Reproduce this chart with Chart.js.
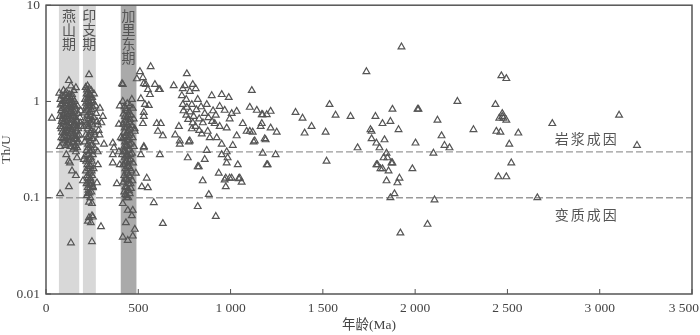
<!DOCTYPE html>
<html>
<head>
<meta charset="utf-8">
<script src="https://cdn.jsdelivr.net/npm/chart.js@4"></script>
<style>
  body { margin: 0; background: #fff; }
  #wrap { width: 700px; height: 335px; }
</style>
</head>
<body>
<div id="wrap"><canvas id="chart" width="700" height="335"></canvas></div>
<script>
// Tick labels
const xTicks = [0, 500, 1000, 1500, 2000, 2500, 3000, 3500];
const xTickLabels = ['0', '500', '1 000', '1 500', '2 000', '2 500', '3 000', '3 500'];
const yTicks = [0.01, 0.1, 1, 10];

// Tectonic periods (age ranges, Ma)
const periodNames = ['燕山期', '印支期', '加里东期'];
const periodFrom = [70, 200, 405];
const periodTo = [180, 270, 490];

// Th/U reference levels and zone labels
const refLevels = [0.3, 0.1];
const zoneNames = ['岩浆成因', '变质成因'];
const zoneAge = [2930, 2930];
const zoneRatio = [0.41, 0.067];

// [age Ma, Th/U]
const yanshan = [
  [32,0.67],[72,1.22],[78,1.05],[80,0.92],[82,0.8],[76,0.7],[85,0.62],[79,0.55],[88,0.48],[83,0.42],[90,0.37],
  [95,1.3],[98,1.12],[92,1.0],[100,0.87],[96,0.76],[102,0.66],[94,0.58],[105,0.5],[99,0.44],[103,0.39],
  [110,1.25],[113,1.08],[108,0.95],[115,0.83],[111,0.73],[117,0.64],[109,0.56],[120,0.49],[114,0.43],[118,0.36],
  [125,1.18],[128,1.02],[123,0.9],[130,0.79],[126,0.69],[133,0.6],[124,0.53],[135,0.46],[129,0.4],[132,0.34],
  [140,1.12],[143,0.97],[138,0.86],[146,0.75],[141,0.66],[148,0.58],[139,0.51],[150,0.44],[144,0.38],[147,0.32],
  [155,1.0],[158,0.88],[153,0.78],[160,0.68],[156,0.6],[163,0.52],[154,0.46],[165,0.4],[159,0.35],[162,0.3],
  [170,0.9],[173,0.75],[168,0.62],[175,0.52],[171,0.44],[178,0.38],[169,0.33],
  [86,1.15],[91,0.95],[87,0.84],[93,0.72],[89,0.66],[97,0.61],[84,0.52],[101,0.47],[92,0.41],[106,0.35],
  [104,1.2],[107,1.02],[112,0.9],[106,0.78],[116,0.7],[112,0.6],[121,0.55],[116,0.47],[122,0.42],[127,0.37],
  [119,1.12],[134,1.08],[131,0.93],[137,0.8],[128,0.74],[142,0.71],[136,0.64],[145,0.54],[137,0.49],[152,0.41],
  [148,1.05],[151,0.92],[157,0.83],[149,0.7],[164,0.64],[158,0.56],[166,0.49],[161,0.43],[170,0.37],[156,0.33],
  [124,1.65],[162,1.39],[141,1.18],[135,1.45],[150,1.3],
  [76,0.34],[124,0.24],[141,0.19],[162,0.17],[76,0.11],[124,0.13],[135,0.034],[130,0.23],[168,0.26],[110,0.28],
  [180,0.45],[185,0.6],[188,0.8],[184,0.68],[190,0.55]
];
const indosinian = [
  [215,1.4],[225,1.45],[235,1.35],[245,1.3],[220,1.2],[230,1.25],[240,1.15],[250,1.1],[212,1.05],[228,1.0],
  [238,0.95],[255,0.98],[218,0.88],[232,0.85],[246,0.82],[208,0.76],[224,0.72],[242,0.7],[258,0.68],[214,0.63],
  [236,0.6],[250,0.58],[205,0.55],[226,0.52],[244,0.5],[260,0.48],[216,0.45],[234,0.43],[252,0.41],[210,0.38],
  [228,0.36],[246,0.35],[262,0.33],[220,0.31],[238,0.3],[254,0.28],[212,0.27],[232,0.25],[248,0.24],[224,0.22],
  [242,0.21],[258,0.2],[216,0.19],[236,0.18],[250,0.17],[228,0.16],[244,0.15],[220,0.14],[238,0.135],[254,0.13],
  [230,0.12],[246,0.115],[222,0.105],[240,0.1],[233,0.09],
  [222,1.32],[234,1.18],[226,1.08],[244,1.02],[216,0.96],[231,0.91],[252,0.88],[221,0.8],[238,0.77],[229,0.66],
  [248,0.64],[219,0.57],[233,0.55],[241,0.47],[222,0.42],[240,0.39],[230,0.33],[250,0.31],[226,0.28],[243,0.26],
  [218,0.24],[236,0.22],[230,0.2],[247,0.19],[224,0.17],[240,0.16],[232,0.145],[248,0.14],[226,0.128],[236,0.112],
  [233,1.9],[260,1.2],[268,0.9],[272,0.75],[276,0.62],[265,0.45],[270,0.38],[280,0.3],[292,0.85],[308,0.7],
  [281,0.57],[314,0.36],[281,0.22],[276,0.143],[254,0.127],
  [227,0.11],[249,0.087],[249,0.065],[233,0.062],[254,0.063],[227,0.057],[243,0.055],[249,0.035],[298,0.05],
  [200,0.15],[205,0.25],[300,0.6],[290,0.45],[285,0.5]
];
const caledonian = [
  [416,1.5],[465,1.05],[416,1.0],[440,0.95],[455,0.9],[425,0.88],[470,0.85],[435,0.8],[450,0.78],[420,0.74],
  [460,0.72],[440,0.68],[475,0.66],[428,0.64],[452,0.6],[418,0.58],[466,0.56],[436,0.54],[480,0.52],[446,0.5],
  [424,0.48],[458,0.46],[434,0.44],[470,0.42],[414,0.41],[448,0.4],[428,0.38],[462,0.37],[440,0.35],[476,0.34],
  [420,0.33],[452,0.32],[432,0.3],[466,0.29],[412,0.28],[444,0.27],[426,0.26],[458,0.25],[438,0.24],[472,0.23],
  [418,0.22],[450,0.21],[430,0.2],[462,0.19],[440,0.18],[424,0.17],[456,0.165],[436,0.155],[468,0.15],[420,0.145],
  [448,0.14],[430,0.13],[460,0.125],[442,0.12],[424,0.115],[454,0.11],[436,0.105],[446,0.1],
  [432,0.84],[446,0.72],[428,0.7],[456,0.65],[434,0.6],[444,0.57],[426,0.53],[456,0.52],[438,0.47],[450,0.44],
  [426,0.42],[440,0.39],[454,0.36],[432,0.34],[446,0.31],[422,0.3],[458,0.28],[436,0.27],[450,0.24],[428,0.23],
  [442,0.21],[456,0.2],[436,0.19],[450,0.17],[430,0.16],[444,0.15],[458,0.14],[436,0.128],[450,0.118],[430,0.108],
  [438,0.1],[416,0.087],[443,0.074],[470,0.074],[433,0.055],[465,0.065],[416,0.039],[443,0.036],[470,0.04],[481,0.047],
  [362,0.23],[384,0.14],[400,0.22],[487,0.18],[362,0.28],[395,0.58],[481,0.49],[362,0.37],[368,0.33],[412,1.53],
  [400,0.9],[405,0.42],[395,0.3]
];
const older = [
  [509,2.04],[567,2.3],[492,1.72],[525,1.77],[530,1.53],[541,1.5],[590,1.5],[611,1.33],[552,1.33],[563,1.18],
  [514,1.07],[536,0.93],[557,0.91],[530,0.77],[525,0.59],[600,0.59],[622,0.59],[606,0.49],[633,0.44],[530,0.33],
  [514,0.28],[617,0.28],[546,0.16],[519,0.13],[552,0.127],[584,0.089],[633,0.054],[617,1.33],[530,0.7],[530,0.34],
  [692,1.46],[763,1.94],[752,1.46],[795,1.5],[741,1.36],[811,1.36],[736,1.15],[779,1.27],[822,1.05],[898,1.15],
  [952,1.18],[990,1.1],[871,0.93],[741,0.93],[763,0.87],[790,0.93],[941,0.89],[968,0.81],[1006,0.75],[1033,0.79],
  [725,0.36],[774,0.38],[768,0.26],[871,0.31],[860,0.25],[822,0.21],[849,0.15],[882,0.108],[936,0.18],[974,0.16],
  [995,0.16],[1050,0.16],[1039,0.22],[974,0.13],[979,0.23],[968,0.153],[822,0.081],[920,0.064],[828,0.21],[725,0.39],
  [779,0.39],[914,0.59],[941,0.55],[979,0.53],[995,0.66],[887,0.42],[925,0.42],[876,0.49],[844,0.46],[979,0.3],
  [952,0.28],[984,0.26],[952,0.36],
  [745,0.8],[760,0.72],[780,0.78],[800,0.7],[815,0.82],[770,0.65],[795,0.6],[830,0.66],[810,0.55],[850,0.6],
  [790,0.52],[830,0.5],[860,0.75],[880,0.68],[900,0.62],[905,0.8],[920,0.72],[840,0.88],[760,1.05],[720,0.55],[700,0.45],
  [1066,0.59],[1087,0.49],[1104,0.49],[1033,0.44],[1131,0.39],[1185,0.41],[1174,0.29],[1196,0.22],[1104,0.87],[1115,1.3],
  [1142,0.81],[1169,0.73],[1196,0.73],[1044,0.158],[1006,0.16],[1060,0.145],[1012,0.35],[1120,0.48],[1163,0.55],[1125,0.38],
  [1217,0.79],[1174,0.73],[1169,0.59],[1217,0.53],[1250,0.48],[1190,0.4],[1244,0.28],[1201,0.22],
  [1352,0.77],[1390,0.67],[1439,0.55],[1401,0.47],[1536,0.93],[1569,0.72],[1650,0.7],[1515,0.48],[1520,0.24],[1688,0.33],
  [1736,2.04],[1926,3.69],[1785,0.7],[1823,0.59],[1866,0.62],[1877,0.83],[1910,0.51],[1764,0.49],[1758,0.51],[1764,0.41],
  [1790,0.37],[1834,0.4],[1807,0.33],[1845,0.29],[1829,0.26],[1850,0.26],[1877,0.23],[1790,0.22],[1812,0.2],[1823,0.2],
  [1856,0.19],[1915,0.16],[1845,0.15],[1904,0.143],[1985,0.2],[2002,0.37],[2013,0.83],[1866,0.1],[1888,0.11],[2105,0.095],
  [2067,0.053],[1920,0.043],[1796,0.22],[1872,0.23],
  [2229,1.0],[2121,0.64],[2143,0.44],[2159,0.35],[2186,0.33],[2099,0.29],[2316,0.51],[2467,1.85],[2494,1.73],[2435,0.93],
  [2472,0.75],[2456,0.67],[2478,0.67],[2494,0.64],[2472,0.7],[2440,0.49],[2462,0.48],[2559,0.47],[2510,0.36],[2521,0.23],
  [2451,0.165],[2494,0.165],[2662,0.1],[2743,0.59],[3105,0.72],[3202,0.35],[2018,0.83]
];

const FONT = "'Liberation Serif', 'Noto Sans CJK SC', serif";
const CJK = "'Noto Sans CJK SC', serif";
const INK = '#444';
const periodShade = ['#d8d8d8', '#d8d8d8', '#aaaaaa'];

const toPts = (arr) => arr.map(p => ({ x: p[0], y: p[1] }));

const pointStyle = {
  type: 'scatter',
  pointStyle: 'triangle',
  pointRadius: 3.9,
  borderColor: '#555',
  borderWidth: 1.2,
  backgroundColor: 'rgba(0,0,0,0)',
};

const datasets = [
  { ...pointStyle, label: 'yanshan', data: toPts(yanshan) },
  { ...pointStyle, label: 'indosinian', data: toPts(indosinian) },
  { ...pointStyle, label: 'caledonian', data: toPts(caledonian) },
  { ...pointStyle, label: 'older', data: toPts(older) },
];
refLevels.forEach(v => {
  datasets.push({
    type: 'line',
    data: [{ x: xTicks[0], y: v }, { x: xTicks[xTicks.length - 1], y: v }],
    borderColor: '#9a9a9a',
    borderWidth: 1.3,
    borderDash: [7, 3],
    pointRadius: 0,
    fill: false,
  });
});

// shaded period bands, frame, inward ticks, x labels, zone labels
const bandPlugin = {
  id: 'bands',
  beforeDatasetsDraw(chart) {
    const { ctx, chartArea, scales } = chart;
    ctx.save();
    periodNames.forEach((name, i) => {
      const x0 = scales.x.getPixelForValue(periodFrom[i]);
      const x1 = scales.x.getPixelForValue(periodTo[i]);
      ctx.fillStyle = periodShade[i];
      ctx.fillRect(x0, chartArea.top, x1 - x0, chartArea.bottom - chartArea.top);
      ctx.fillStyle = '#555';
      ctx.font = '14px ' + CJK;
      ctx.textAlign = 'center';
      ctx.textBaseline = 'middle';
      const cx = (x0 + x1) / 2;
      [...name].forEach((ch, k) => {
        ctx.fillText(ch, cx, chartArea.top + 10 + k * 14);
      });
    });
    ctx.restore();
  },
  afterDraw(chart) {
    const { ctx, chartArea, scales, width } = chart;
    ctx.save();
    ctx.strokeStyle = '#555';
    ctx.lineWidth = 1.5;
    ctx.strokeRect(chartArea.left, chartArea.top, chartArea.right - chartArea.left, chartArea.bottom - chartArea.top);
    ctx.lineWidth = 1;
    xTicks.forEach(v => {
      const x = scales.x.getPixelForValue(v);
      ctx.beginPath();
      ctx.moveTo(x, chartArea.bottom);
      ctx.lineTo(x, chartArea.bottom - 5);
      ctx.stroke();
    });
    yTicks.forEach(v => {
      const y = scales.y.getPixelForValue(v);
      ctx.beginPath();
      ctx.moveTo(chartArea.left, y);
      ctx.lineTo(chartArea.left + 5, y);
      ctx.stroke();
    });
    // x tick labels (last one kept inside the canvas)
    ctx.fillStyle = INK;
    ctx.font = '13.5px ' + FONT;
    ctx.textAlign = 'center';
    ctx.textBaseline = 'top';
    xTicks.forEach((v, i) => {
      const t = xTickLabels[i];
      const w = ctx.measureText(t).width;
      let x = scales.x.getPixelForValue(v);
      if (x + w / 2 > width - 1) x = width - 1 - w / 2;
      ctx.fillText(t, x, chartArea.bottom + 8);
    });
    // zone labels
    ctx.fillStyle = '#555';
    ctx.font = '14px ' + CJK;
    ctx.textBaseline = 'middle';
    zoneNames.forEach((t, i) => {
      const x = scales.x.getPixelForValue(zoneAge[i]);
      const y = scales.y.getPixelForValue(zoneRatio[i]);
      ctx.save();
      ctx.letterSpacing = '2px';
      ctx.fillText(t, x, y);
      ctx.restore();
    });
    ctx.restore();
  }
};

new Chart(document.getElementById('chart'), {
  type: 'scatter',
  data: { datasets },
  options: {
    responsive: false,
    animation: false,
    devicePixelRatio: 1,
    layout: { padding: { top: 3, right: 8, left: 0, bottom: 0 } },
    plugins: { legend: { display: false }, tooltip: { enabled: false } },
    scales: {
      x: {
        type: 'linear',
        min: 0,
        max: 3500,
        afterBuildTicks: (s) => { s.ticks = xTicks.map(v => ({ value: v })); },
        afterFit: (s) => { s.height = 41; s.paddingLeft = 0; s.paddingRight = 0; },
        grid: { display: false, drawTicks: false },
        border: { display: false },
        ticks: { display: false },
        title: {
          display: true,
          text: '年龄(Ma)',
          color: INK,
          font: { family: FONT, size: 13.5, lineHeight: 1.2 },
          padding: { top: 0, bottom: 1 },
        },
      },
      y: {
        type: 'logarithmic',
        min: 0.01,
        max: 10,
        afterBuildTicks: (s) => { s.ticks = yTicks.map(v => ({ value: v })); },
        afterFit: (s) => { s.width = 46; s.paddingTop = 0; s.paddingBottom = 0; },
        grid: { display: false, drawTicks: false },
        border: { display: false },
        ticks: {
          padding: 6,
          color: INK,
          font: { family: FONT, size: 13.5 },
          callback: (v) => String(v),
        },
        title: {
          display: true,
          text: 'Th/U',
          color: INK,
          font: { family: FONT, size: 13.5, lineHeight: 1.0 },
          padding: { top: 0, bottom: 0 },
        },
      },
    },
  },
  plugins: [bandPlugin],
});
</script>
</body>
</html>
